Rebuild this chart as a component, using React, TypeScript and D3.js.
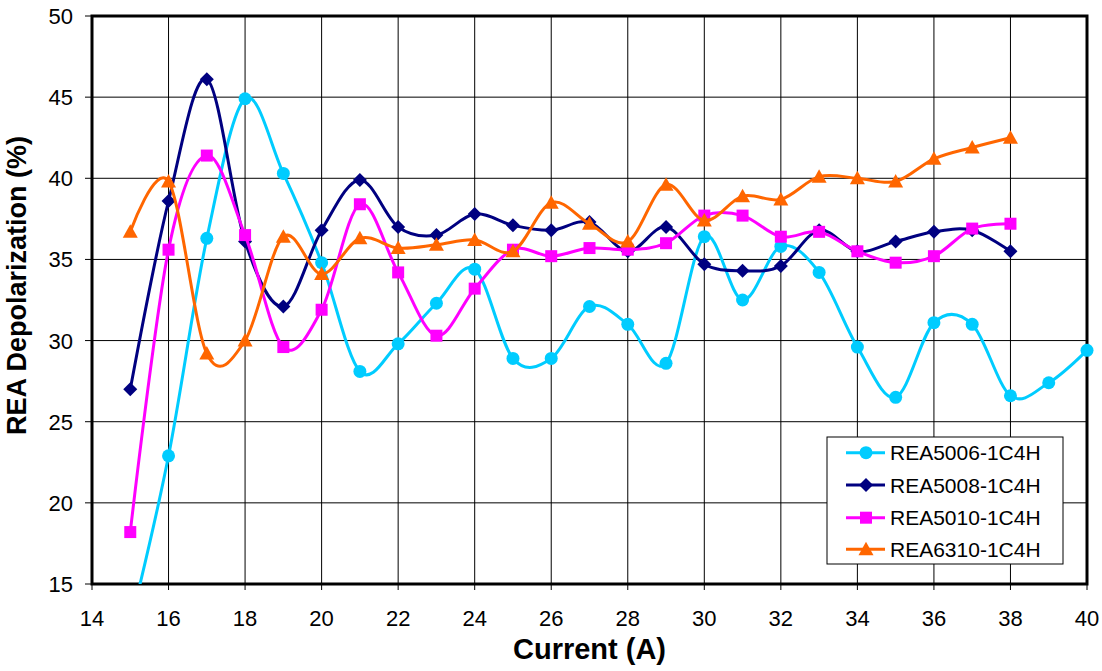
import React from "react";
import * as d3 from "d3";

const currentA = [15, 16, 17, 18, 19, 20, 21, 22, 23, 24, 25, 26, 27, 28, 29, 30, 31, 32, 33, 34, 35, 36, 37, 38, 39, 40];
const rea5006 = [12.5, 22.9, 36.3, 44.9, 40.3, 34.8, 28.1, 29.8, 32.3, 34.4, 28.9, 28.9, 32.1, 31.0, 28.6, 36.4, 32.5, 35.8, 34.2, 29.6, 26.5, 31.1, 31.0, 26.6, 27.4, 29.4];
const rea5008 = [27.0, 38.6, 46.1, 36.1, 32.1, 36.8, 39.9, 37.0, 36.5, 37.8, 37.1, 36.8, 37.3, 35.5, 37.0, 34.7, 34.3, 34.6, 36.8, 35.5, 36.1, 36.7, 36.8, 35.5];
const rea5010 = [18.2, 35.6, 41.4, 36.5, 29.6, 31.9, 38.4, 34.2, 30.3, 33.2, 35.6, 35.2, 35.7, 35.6, 36.0, 37.7, 37.7, 36.4, 36.7, 35.5, 34.8, 35.2, 36.9, 37.2];
const rea6310 = [36.7, 39.8, 29.2, 30.0, 36.4, 34.1, 36.3, 35.7, 35.9, 36.2, 35.5, 38.5, 37.2, 36.1, 39.6, 37.4, 38.9, 38.7, 40.1, 40.0, 39.8, 41.2, 41.9, 42.5];

const seriesNames = ["REA5006-1C4H", "REA5008-1C4H", "REA5010-1C4H", "REA6310-1C4H"];
const seriesValues = [rea5006, rea5008, rea5010, rea6310];
const seriesColors = ["#00CCFF", "#000080", "#FF00FF", "#FF6600"];
const seriesMarkers = ["circle", "diamond", "square", "triangle"];

const xTicks = [14, 16, 18, 20, 22, 24, 26, 28, 30, 32, 34, 36, 38, 40];
const yTicks = [15, 20, 25, 30, 35, 40, 45, 50];

const W = 1102, H = 671;
const L = 92, R = 1087, T = 16, B = 584;

function Marker({ type, x, y, color }: { type: string; x: number; y: number; color: string }) {
  if (type === "circle") return <circle cx={x} cy={y} r={6.5} fill={color} />;
  if (type === "diamond") {
    const s = 7;
    return <path d={`M${x},${y - s}L${x + s},${y}L${x},${y + s}L${x - s},${y}Z`} fill={color} />;
  }
  if (type === "square") {
    const s = 6;
    return <rect x={x - s} y={y - s} width={2 * s} height={2 * s} fill={color} />;
  }
  const s = 7.5;
  return <path d={`M${x},${y - s}L${x + s},${y + s * 0.8}L${x - s},${y + s * 0.8}Z`} fill={color} />;
}

export default function App() {
  const x = d3.scaleLinear().domain([14, 40]).range([L, R]);
  const y = d3.scaleLinear().domain([15, 50]).range([B, T]);
  const line = d3
    .line<[number, number]>()
    .x((d) => x(d[0]))
    .y((d) => y(d[1]))
    .curve(d3.curveCardinal.tension(0));

  const font = "Liberation Sans, Arial, sans-serif";
  const legendRows = [452.7, 485, 517.7, 549.3];

  return (
    <svg width={W} height={H} style={{ position: "absolute", left: 0, top: 0, background: "#fff" }} fontFamily={font}>
      <defs>
        <clipPath id="plotClip">
          <rect x={L} y={T} width={R - L} height={B - T} />
        </clipPath>
      </defs>
      <rect x={0} y={0} width={W} height={H} fill="#fff" />
      {/* grid */}
      {xTicks.map((t) => (
        <line key={"gx" + t} x1={x(t)} x2={x(t)} y1={T} y2={B + 6} stroke="#000" strokeWidth={1} />
      ))}
      {yTicks.map((t) => (
        <line key={"gy" + t} x1={L - 7} x2={R} y1={y(t)} y2={y(t)} stroke="#000" strokeWidth={1} />
      ))}
      {/* plot border */}
      <rect x={L} y={T} width={R - L} height={B - T} fill="none" stroke="#000" strokeWidth={3} />
      {/* series */}
      {seriesValues.map((vals, i) => {
        const pts: [number, number][] = vals.map((v, j) => [currentA[j], v]);
        return (
          <g key={"s" + i}>
            <path d={line(pts) || ""} fill="none" stroke={seriesColors[i]} strokeWidth={3} clipPath="url(#plotClip)" />
            {pts
              .filter((p) => p[1] >= 15 && p[1] <= 50)
              .map((p, j) => (
                <Marker key={j} type={seriesMarkers[i]} x={x(p[0])} y={y(p[1])} color={seriesColors[i]} />
              ))}
          </g>
        );
      })}
      {/* tick labels */}
      {yTicks.map((t) => (
        <text key={"yl" + t} x={73} y={y(t) + 8} textAnchor="end" fontSize={22} fill="#000">
          {t}
        </text>
      ))}
      {xTicks.map((t) => (
        <text key={"xl" + t} x={x(t)} y={626} textAnchor="middle" fontSize={22} fill="#000">
          {t}
        </text>
      ))}
      {/* axis titles */}
      <text x={(L + R) / 2} y={659} textAnchor="middle" fontSize={29} fontWeight="bold" fill="#000">
        Current (A)
      </text>
      <text
        transform={`translate(26,285.5) rotate(-90)`}
        textAnchor="middle"
        fontSize={27}
        fontWeight="bold"
        fill="#000"
      >
        REA Depolarization (%)
      </text>
      {/* legend */}
      <rect x={827} y={437} width={236} height={127} fill="#fff" stroke="#000" strokeWidth={1} />
      {seriesNames.map((n, i) => (
        <g key={"lg" + i}>
          <line x1={846} x2={885} y1={legendRows[i]} y2={legendRows[i]} stroke={seriesColors[i]} strokeWidth={3} />
          <Marker type={seriesMarkers[i]} x={866} y={legendRows[i]} color={seriesColors[i]} />
          <text x={890} y={legendRows[i] + 7.5} fontSize={21} fill="#000">
            {n}
          </text>
        </g>
      ))}
    </svg>
  );
}
